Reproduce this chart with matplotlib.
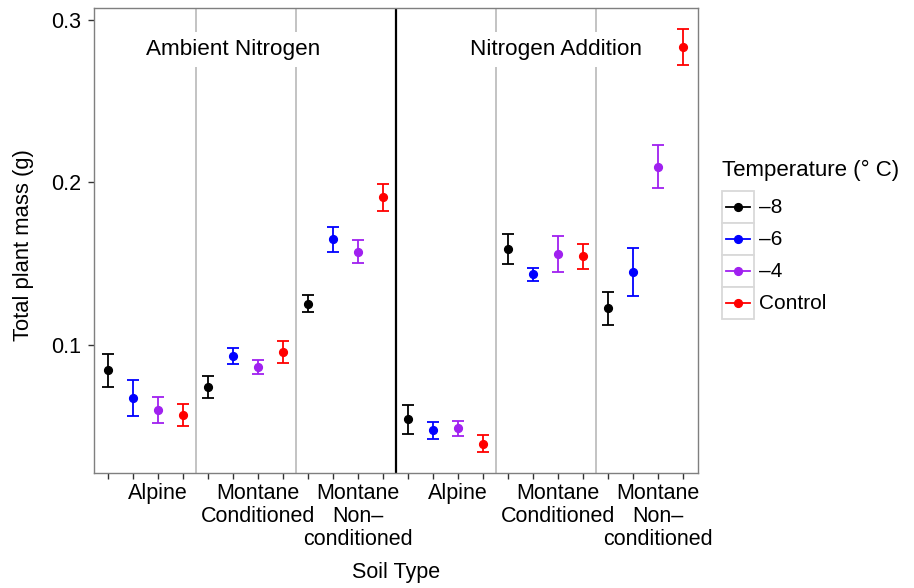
import matplotlib
matplotlib.use("Agg")
import matplotlib.pyplot as plt
from matplotlib.lines import Line2D
from matplotlib.patches import Rectangle
from matplotlib.legend_handler import HandlerBase

plt.rcParams['font.family'] = ['Liberation Sans', 'DejaVu Sans']

# ---------------- data ----------------
soil_labels = ["Alpine", "Montane\nConditioned", "Montane\nNon\u2013\nconditioned",
               "Alpine", "Montane\nConditioned", "Montane\nNon\u2013\nconditioned"]
temperatures = ["\u20138", "\u20136", "\u20134", "Control"]
colors = ["#000000", "#0000ff", "#a020f0", "#ff0000"]
panel_titles = ["Ambient Nitrogen", "Nitrogen Addition"]

# mean values per temperature, across the 6 soil groups (3 ambient, 3 N addition)
mean_m8 = [0.0846, 0.0743, 0.1254, 0.0543, 0.1591, 0.1226]
mean_m6 = [0.0672, 0.0932, 0.1651, 0.0477, 0.1435, 0.1449]
mean_m4 = [0.0600, 0.0865, 0.1574, 0.0487, 0.1562, 0.2097]
mean_ct = [0.0569, 0.0959, 0.1909, 0.0393, 0.1550, 0.2834]

low_m8 = [0.0740, 0.0672, 0.1201, 0.0454, 0.1500, 0.1123]
low_m6 = [0.0561, 0.0885, 0.1574, 0.0423, 0.1396, 0.1303]
low_m4 = [0.0522, 0.0822, 0.1503, 0.0438, 0.1451, 0.1968]
low_ct = [0.0503, 0.0889, 0.1827, 0.0342, 0.1468, 0.2721]

high_m8 = [0.0947, 0.0811, 0.1306, 0.0631, 0.1683, 0.1328]
high_m6 = [0.0783, 0.0980, 0.1728, 0.0526, 0.1472, 0.1595]
high_m4 = [0.0680, 0.0910, 0.1644, 0.0534, 0.1673, 0.2229]
high_ct = [0.0635, 0.1027, 0.1989, 0.0444, 0.1623, 0.2945]

means = [mean_m8, mean_m6, mean_m4, mean_ct]
lows = [low_m8, low_m6, low_m4, low_ct]
highs = [high_m8, high_m6, high_m4, high_ct]

yticks = [0.1, 0.2, 0.3]
ytick_labels = ["0.1", "0.2", "0.3"]

# ---------------- figure ----------------
W, H, DPI = 914, 588, 100
FS = 15.5
fig = plt.figure(figsize=(W / DPI, H / DPI), dpi=DPI)
ax = fig.add_axes([94 / W, 1 - 473 / H, (698 - 94) / W, (473 - 8) / H])

ngroups = len(soil_labels)
ntemp = len(temperatures)

# separators
for g in range(1, ngroups):
    xsep = g * ntemp + 0.5
    if g == 3:
        ax.axvline(xsep, color="black", lw=1.6, zorder=1)
    else:
        ax.axvline(xsep, color="#bebebe", lw=1.3, zorder=1)

# panel titles
for i, t in enumerate(panel_titles):
    xc = 6.0 if i == 0 else 18.9
    ax.text(xc, 0.2818, t, ha="center", va="center", fontsize=16.2, zorder=2,
            bbox=dict(facecolor="white", edgecolor="none", pad=5))

# error bars + points
for t in range(ntemp):
    xs = [g * ntemp + t + 1 for g in range(ngroups)]
    m = means[t]
    lo = [m[i] - lows[t][i] for i in range(ngroups)]
    hi = [highs[t][i] - m[i] for i in range(ngroups)]
    ax.errorbar(xs, m, yerr=[lo, hi], fmt="o", color=colors[t], ms=5.6,
                elinewidth=1.3, capsize=4.4, capthick=1.3, zorder=3)

ax.set_xlim(0.44, 24.6)
ax.set_ylim(0.02123, 0.30738)

xt = list(range(1, ngroups * ntemp + 1))
xl = []
for g in range(ngroups):
    for t in range(ntemp):
        xl.append(soil_labels[g] if t == 2 else "")
ax.set_xticks(xt)
ax.set_xticklabels(xl, fontsize=FS, linespacing=1.13)
ax.set_yticks(yticks)
ax.set_yticklabels(ytick_labels, fontsize=FS)
ax.tick_params(axis="both", direction="out", length=4.5, width=1.0,
               color="#333333", labelcolor="black")
ax.tick_params(axis="y", pad=4.5)
ax.tick_params(axis="x", pad=2.5)

for s in ax.spines.values():
    s.set_color("#7f7f7f")
    s.set_linewidth(1.0)

ax.set_ylabel("Total plant mass (g)", fontsize=FS + 0.3)
ax.yaxis.set_label_coords(-0.099, 0.49)
ax.set_xlabel("Soil Type", fontsize=FS)
ax.xaxis.set_label_coords(0.5, -0.192)


# legend with boxed keys
class KeyBox(HandlerBase):
    def create_artists(self, legend, orig_handle, xdescent, ydescent,
                       width, height, fontsize, trans):
        c = orig_handle.get_color()
        x0, y0 = -xdescent, -ydescent
        rect = Rectangle((x0, y0), width, height, facecolor="white",
                         edgecolor="#d9d9d9", lw=1.3, transform=trans)
        ln = Line2D([x0 + width * 0.12, x0 + width * 0.88],
                    [y0 + height / 2] * 2, color=c, lw=1.3, transform=trans)
        dot = Line2D([x0 + width / 2], [y0 + height / 2], marker="o",
                     ms=5.6, color=c, lw=0, transform=trans)
        return [rect, ln, dot]


handles = [Line2D([], [], color=c) for c in colors]
leg = fig.legend(handles, temperatures, loc="upper left",
                 bbox_to_anchor=(722 / W, 1 - 160 / H),
                 frameon=False, fontsize=15, title="Temperature (\u00b0 C)",
                 title_fontsize=16, handlelength=1.53, handleheight=1.98,
                 labelspacing=0.0, handletextpad=0.25, borderpad=0,
                 borderaxespad=0, alignment="left",
                 handler_map={Line2D: KeyBox()})
leg._legend_box.sep = 7

fig.savefig("out.png", dpi=DPI)
